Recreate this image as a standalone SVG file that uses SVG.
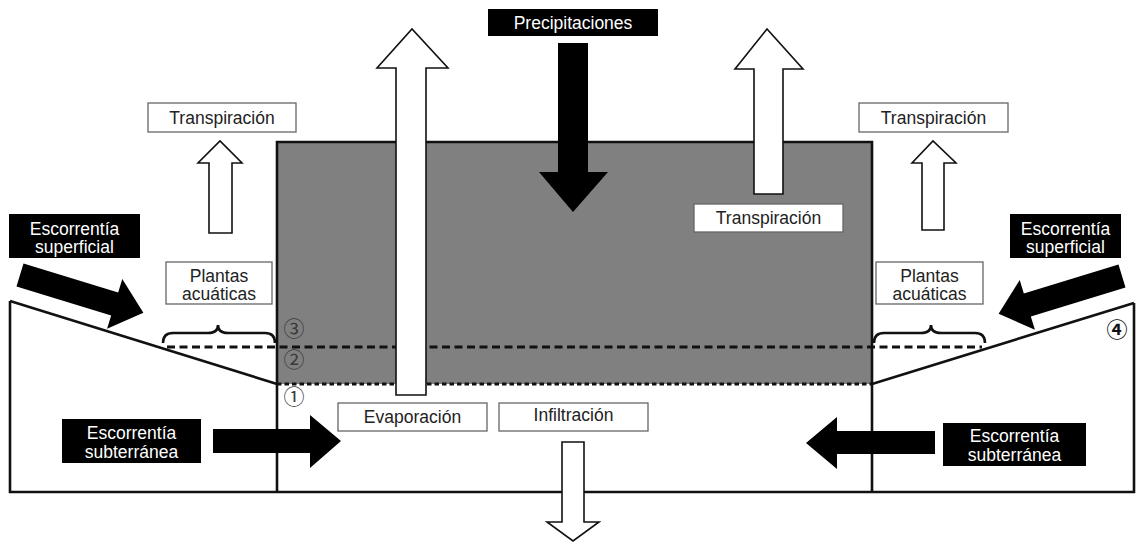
<svg xmlns="http://www.w3.org/2000/svg" width="1136" height="543" viewBox="0 0 1136 543">
<defs>
<style>
.wall{fill:none;stroke:#111;stroke-width:2.6;stroke-linejoin:miter}
.box{fill:#fff;stroke:#666;stroke-width:1.3}
.bbox{fill:#000}
.lbl{font-family:"Liberation Sans",Arial,sans-serif;font-size:17.5px;fill:#222;text-anchor:middle}
.wlbl{font-family:"Liberation Sans",Arial,sans-serif;font-size:17.5px;fill:#fff;text-anchor:middle}
.warrow{fill:#fff;stroke:#111;stroke-width:1.6;stroke-linejoin:miter}
.barrow{fill:#000}
.num{font-family:"Noto Sans CJK JP",sans-serif;font-size:21px;fill:#3a3a3a;text-anchor:middle}
.brace{fill:none;stroke:#111;stroke-width:2.6}
</style>
<polygon id="sarrow" points="0,-12 99,-12 99,-26 129,0 99,26 99,12 0,12"/>
</defs>
<rect width="1136" height="543" fill="#fff"/>

<g id="lake">
<rect x="277" y="142" width="595" height="242" fill="#808080"/>
<path class="wall" d="M277,492 L277,142 L872,142 L872,492"/>
<path class="wall" d="M10,301 L10,492 L1134,492 L1134,303"/>
<path class="wall" d="M10,301 L277,384"/>
<path class="wall" d="M872,384 L1134,303"/>
<line x1="167" y1="347" x2="982" y2="347" stroke="#111" stroke-width="2.8" stroke-dasharray="8,4.5"/>
<line x1="277" y1="384" x2="872" y2="384" stroke="#111" stroke-width="2.8" stroke-dasharray="4.5,3"/>
<path class="brace" d="M163,343 Q163,333 173,333 L208,333 Q218,333 218,325 Q218,333 228,333 L265,333 Q275,333 275,343"/>
<path class="brace" d="M874,343 Q874,333 884,333 L921,333 Q931,333 931,325 Q931,333 941,333 L975,333 Q985,333 985,343"/>
</g>

<g id="connectors">
<polygon class="warrow" points="396,395 396,68 377,68 412,29 448,68 426,68 426,395"/>
<polygon class="warrow" points="754,194 754,69 735,69 767,29 803,69 783,69 783,194"/>
<polygon class="barrow" points="558,43 588,43 588,172 608,172 573,212 539,172 558,172"/>
<polygon class="warrow" points="209,233 209,163 198,163 220,141 242,163 232,163 232,233"/>
<polygon class="warrow" points="922,230 922,163 912,163 933,141 956,163 944,163 944,230"/>
<polygon class="warrow" points="562,442 584,442 584,522 599,522 573,541 547,522 562,522"/>
<use href="#sarrow" class="barrow" transform="translate(20,275) rotate(17)"/>
<use href="#sarrow" class="barrow" transform="translate(1122,276) rotate(163)"/>
<polygon class="barrow" points="213,429 310,429 310,415 341,441 310,468 310,453 213,453"/>
<polygon class="barrow" points="935,431 837,431 837,417 806,443 837,469 837,454 935,454"/>
</g>

<g id="precipitaciones"><rect class="bbox" x="488" y="9" width="170" height="27"/><text class="wlbl" x="573" y="29">Precipitaciones</text></g>
<g id="transpiracion-izq"><rect class="box" x="148" y="103" width="148" height="29"/><text class="lbl" x="222" y="124">Transpiración</text></g>
<g id="transpiracion-der"><rect class="box" x="859" y="103" width="149" height="29"/><text class="lbl" x="933.5" y="124">Transpiración</text></g>
<g id="transpiracion-centro"><rect class="box" x="694" y="204" width="149" height="28"/><text class="lbl" x="768.5" y="224">Transpiración</text></g>
<g id="escorrentia-sup-izq"><rect class="bbox" x="9" y="214" width="131" height="44"/><text class="wlbl" x="74.5" y="235">Escorrentía</text><text class="wlbl" x="74.5" y="253">superficial</text></g>
<g id="escorrentia-sup-der"><rect class="bbox" x="1010" y="214" width="111" height="44"/><text class="wlbl" x="1065.5" y="235">Escorrentía</text><text class="wlbl" x="1065.5" y="253">superficial</text></g>
<g id="plantas-izq"><rect class="box" x="166" y="262" width="106" height="42"/><text class="lbl" x="219" y="282">Plantas</text><text class="lbl" x="219" y="300">acuáticas</text></g>
<g id="plantas-der"><rect class="box" x="876" y="262" width="107" height="42"/><text class="lbl" x="929.5" y="282">Plantas</text><text class="lbl" x="929.5" y="300">acuáticas</text></g>
<g id="evaporacion"><rect class="box" x="338" y="403" width="149" height="28"/><text class="lbl" x="412.5" y="423">Evaporación</text></g>
<g id="infiltracion"><rect class="box" x="499" y="403" width="149" height="28"/><text class="lbl" x="573.5" y="421">Infiltración</text></g>
<g id="escorrentia-sub-izq"><rect class="bbox" x="62" y="419" width="139" height="44"/><text class="wlbl" x="131.5" y="439">Escorrentía</text><text class="wlbl" x="131.5" y="458">subterránea</text></g>
<g id="escorrentia-sub-der"><rect class="bbox" x="943" y="423" width="143" height="43"/><text class="wlbl" x="1014.5" y="442">Escorrentía</text><text class="wlbl" x="1014.5" y="461">subterránea</text></g>

<g id="niveles">
<text class="num" x="294" y="336">③</text>
<text class="num" x="294" y="367">②</text>
<text class="num" x="294" y="404">①</text>
<text class="num" x="1117" y="337" style="font-weight:bold;fill:#111">④</text>
</g>
</svg>
